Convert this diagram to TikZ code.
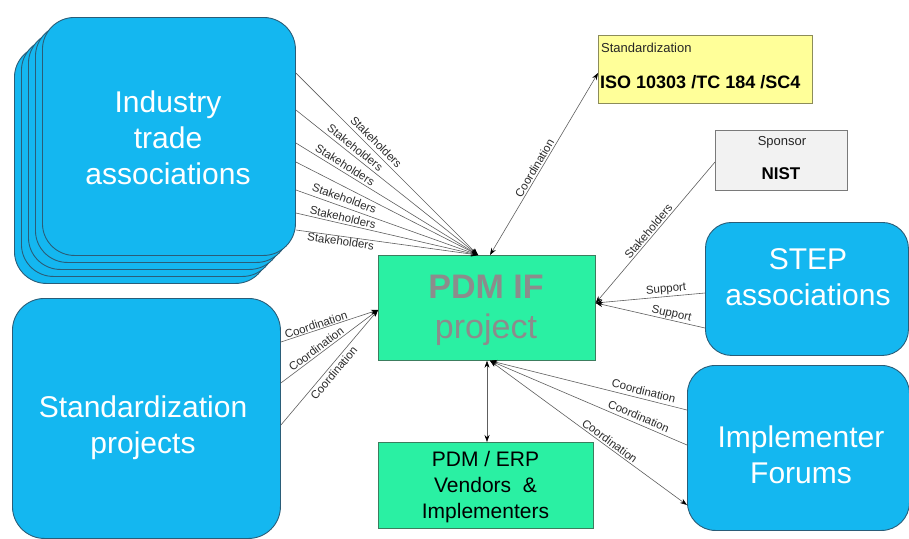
\documentclass[tikz,border=0pt]{standalone}
\usepackage{fontspec}
\setmainfont{Liberation Sans}
\usetikzlibrary{arrows.meta}

\definecolor{skyfill}{HTML}{14B7F0}
\definecolor{skyedge}{HTML}{2A5D78}
\definecolor{mint}{HTML}{2AF0A3}
\definecolor{mintedge}{HTML}{3C7D5E}
\definecolor{paleyellow}{HTML}{FFFF99}
\definecolor{paleedge}{HTML}{8C8C5A}
\definecolor{lightgrey}{HTML}{F2F2F2}
\definecolor{greyedge}{HTML}{7A7A7A}
\definecolor{linegrey}{HTML}{5E5E5E}
\definecolor{labelgrey}{HTML}{2B2B2B}
\definecolor{projgrey}{HTML}{8C8C8C}

\tikzset{
  bluebox/.style={draw=skyedge, line width=0.9pt, fill=skyfill, rounded corners=32pt,
    anchor=north west, inner sep=0pt},
  greenbox/.style={draw=mintedge, line width=0.7pt, fill=mint, anchor=north west, inner sep=0pt},
  plainbox/.style={line width=0.7pt, anchor=north west, inner sep=0pt},
  bigtext/.style={text=white, align=center, inner sep=0pt, font=\fontsize{30}{36}\selectfont},
  link/.style={draw=linegrey, line width=0.6pt},
  onearrow/.style={-{Stealth[length=7pt,width=5pt,color=black]}},
  twoarrow/.style={{Stealth[length=7pt,width=5pt,color=black]}-{Stealth[length=7pt,width=5pt,color=black]}},
  lbl/.style={sloped, font=\fontsize{11.5}{13}\selectfont, text=labelgrey, inner sep=0.5pt},
}

\begin{document}
\begin{tikzpicture}[x=1pt, y=-1pt]
\useasboundingbox (0,0) rectangle (909,538);

% stacked industry boxes, back to front
\node[bluebox, minimum width=253pt, minimum height=238pt] (ita4) at (14,45) {};
\node[bluebox, minimum width=253pt, minimum height=238pt] (ita3) at (21,38) {};
\node[bluebox, minimum width=253pt, minimum height=238pt] (ita2) at (28,31) {};
\node[bluebox, minimum width=253pt, minimum height=238pt] (ita1) at (35,24) {};
\node[bluebox, minimum width=253pt, minimum height=238pt] (ita) at (42,17) {};
\node[bigtext] (ita-t) at (168,138) {Industry\\trade\\associations};

% standardization projects
\node[bluebox, minimum width=268pt, minimum height=240pt] (sp) at (12,298) {};
\node[bigtext] (sp-t) at (143,428) {Standardization\\projects};

% central project
\node[greenbox, minimum width=217pt, minimum height=105pt] (pdm) at (378,255) {};
\node[text=projgrey, align=center, inner sep=0pt, font=\fontsize{34}{40}\selectfont]
  (pdm-t) at (486,310) {{\bfseries PDM IF}\\project};

% vendors
\node[greenbox, minimum width=215pt, minimum height=86pt] (erp) at (378,442) {};
\node[align=center, inner sep=0pt, font=\fontsize{21}{26}\selectfont]
  (erp-t) at (485.5,487) {PDM / ERP\\Vendors\ \ \&\\Implementers};

% standardization body
\node[plainbox, draw=paleedge, fill=paleyellow, minimum width=214pt, minimum height=68pt] (iso) at (598,35) {};
\node[anchor=west, inner sep=0pt, text=black!85, font=\fontsize{13}{15}\selectfont] (iso-a) at (601,48) {Standardization};
\node[anchor=west, inner sep=0pt, font=\bfseries\fontsize{18}{20}\selectfont] (iso-b) at (600,82) {ISO 10303 /TC 184 /SC4};

% sponsor
\node[plainbox, draw=greyedge, fill=lightgrey, minimum width=132pt, minimum height=60pt] (nist) at (715,130) {};
\node[inner sep=0pt, text=black!85, font=\fontsize{13}{15}\selectfont] (nist-a) at (782,142) {Sponsor};
\node[inner sep=0pt, font=\bfseries\fontsize{17}{19}\selectfont] (nist-b) at (781,174) {NIST};

% STEP associations and implementer forums
\node[bluebox, rounded corners=26pt, minimum width=203pt, minimum height=133pt] (stepa) at (705,222) {};
\node[bigtext] (stepa-t) at (808,277) {STEP\\associations};
\node[bluebox, rounded corners=28pt, minimum width=222pt, minimum height=165pt] (impl) at (687,365) {};
\node[bigtext] (impl-t) at (801,455) {Implementer\\Forums};

% ports on the central box
\coordinate (pdmA) at ([xshift=100pt]pdm.north west);
\coordinate (pdmB) at ([xshift=112pt]pdm.north west);
\coordinate (pdmW) at ([yshift=-55pt]pdm.north west);
\coordinate (pdmE) at ([yshift=-48pt]pdm.north east);
\coordinate (pdmS) at ([xshift=112pt]pdm.south west);
\coordinate (pdmV) at ([xshift=109pt]pdm.south west);
\coordinate (erpV) at ([xshift=109pt]erp.north west);

% stakeholders from the industry associations
\draw[link,onearrow] ([yshift=-56pt]ita.north east) -- (pdmA) node[lbl,pos=.41,above=3pt]{Stakeholders};
\draw[link,onearrow] ([yshift=-93pt]ita.north east) -- (pdmA) node[lbl,pos=.30,above=2.5pt]{Stakeholders};
\draw[link,onearrow] ([yshift=-126pt]ita.north east) -- (pdmA) node[lbl,pos=.25,above=2pt]{Stakeholders};
\draw[link,onearrow] ([yshift=-145pt]ita.north east) -- (pdmA);
\draw[link,onearrow] ([yshift=-173pt]ita.north east) -- (pdmA) node[lbl,pos=.25,above=3.5pt]{Stakeholders};
\draw[link,onearrow] ([yshift=-196pt]ita.north east) -- (pdmA) node[lbl,pos=.25,above=1.5pt]{Stakeholders};
\draw[link,onearrow] ([yshift=-213pt]ita.north east) -- (pdmA) node[lbl,pos=.25,below=0pt]{Stakeholders};

% coordination with the standardization body
\draw[link,twoarrow] (pdmB) -- ([yshift=-38pt]iso.north west) node[lbl,pos=.46,above=1pt]{Coordination};

% sponsor and support
\draw[link,onearrow] ([yshift=-32pt]nist.north west) -- (pdmE) node[lbl,pos=.52,above=1pt]{Stakeholders};
\draw[link,onearrow] ([yshift=-71pt]stepa.north west) -- (pdmE) node[lbl,pos=.35,above=1pt]{Support};
\draw[link,onearrow] ([yshift=-106pt]stepa.north west) -- (pdmE) node[lbl,pos=.32,above=0pt]{Support};

% coordination with standardization projects
\draw[link,onearrow] ([yshift=-44pt]sp.north east) -- (pdmW) node[lbl,pos=.38,above=0.5pt]{Coordination};
\draw[link,onearrow] ([yshift=-85pt]sp.north east) -- (pdmW) node[lbl,pos=.40,above=1pt]{Coordination};
\draw[link,onearrow] ([yshift=-127pt]sp.north east) -- (pdmW) node[lbl,pos=.49,below=2pt]{Coordination};

% coordination with implementer forums
\draw[link,onearrow] ([yshift=-45pt]impl.north west) -- (pdmS) node[lbl,pos=.23,above=3pt]{Coordination};
\draw[link,onearrow] ([yshift=-80pt]impl.north west) -- (pdmS) node[lbl,pos=.26,above=2.5pt]{Coordination};
\draw[link,twoarrow] ([yshift=-140pt]impl.north west) -- (pdmS) node[lbl,pos=.41,above=1pt]{Coordination};

% vendors
\draw[link,twoarrow] (pdmV) -- (erpV);
\end{tikzpicture}
\end{document}
